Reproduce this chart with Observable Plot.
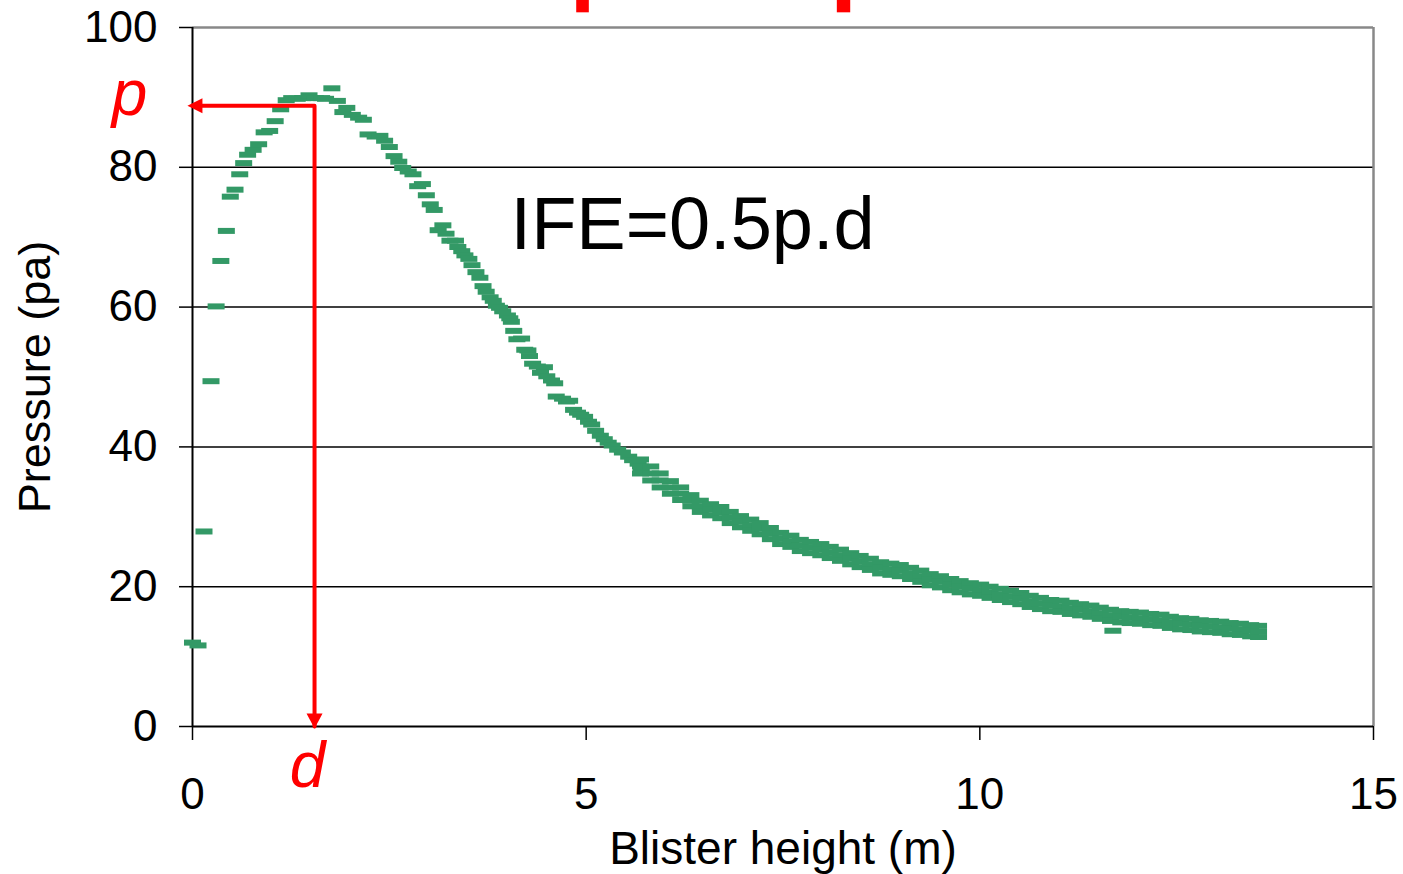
<!DOCTYPE html>
<html><head><meta charset="utf-8">
<script src="https://cdn.jsdelivr.net/npm/d3@7"></script>
<script src="https://cdn.jsdelivr.net/npm/@observablehq/plot@0.6"></script>
<style>body{margin:0;background:#fff} svg{display:block}</style>
</head><body><div id="chart"></div>
<script>
// Individually readable dashes (rising limb, peak, steep fall, one outlier)
const blisterHeight = [0.00,0.07,0.146,0.235,0.30,0.36,0.43,0.48,0.54,0.60,0.65,0.70,0.77,0.84,0.91,0.98,1.05,1.12,1.19,1.26,1.33,1.40,1.48,1.56,1.64,1.69,1.77,1.84,1.91,1.96,2.03,2.11,2.17,2.23,2.32,2.38,2.44,2.50,2.56,2.62,2.67,2.74,2.80,2.86,2.92,2.97,3.02,3.07,3.12,3.18,3.22,3.27,3.34,3.37,3.42,3.46,3.51,3.55,3.60,3.65,3.69,3.73,3.78,3.82,3.86,3.90,3.94,4.00,4.03,4.05,4.08,4.12,4.18,4.22,4.26,4.28,4.32,4.38,4.47,4.42,4.50,4.56,4.60,4.62,4.70,4.75,4.79,4.84,4.89,4.93,4.98,5.03,5.07,5.12,5.18,5.23,5.28,5.33,5.40,5.46,5.54,5.59,5.66,5.70,11.69];
const pressure = [12.0,11.6,27.9,49.4,60.1,66.6,70.9,75.8,76.8,79.0,80.6,81.8,82.5,83.3,85.0,85.2,86.6,88.3,89.6,89.9,89.8,89.9,90.3,89.9,89.9,89.8,91.3,89.5,87.9,88.5,87.5,87.1,86.8,84.7,84.4,84.5,83.8,82.9,81.6,80.8,79.9,79.4,79.0,77.3,77.6,76.0,74.7,73.9,71.0,71.7,70.5,69.5,69.5,68.6,68.0,67.4,66.9,66.0,65.0,64.2,63.0,62.2,61.4,60.9,60.2,59.9,59.4,58.8,58.4,57.9,56.6,55.4,55.5,53.9,53.8,53.0,51.9,51.5,51.4,50.6,50.1,49.5,49.1,47.2,46.9,46.5,46.6,45.3,44.9,44.6,44.3,43.6,43.2,42.3,41.6,41.1,40.6,40.2,39.6,39.2,38.6,38.1,37.6,36.6,13.7];

// Dense tail band: upper, middle and lower rows of the band of dashes
const tailHeight = [5.69,5.82,5.94,6.07,6.20,6.33,6.45,6.58,6.71,6.83,6.96,7.09,7.21,7.34,7.47,7.60,7.72,7.85,7.98,8.10,8.23,8.36,8.48,8.61,8.74,8.87,8.99,9.12,9.25,9.37,9.50,9.63,9.75,9.88,10.01,10.13,10.26,10.39,10.52,10.64,10.77,10.90,11.03,11.15,11.28,11.41,11.53,11.66,11.79,11.91,12.04,12.17,12.30,12.42,12.55,12.68,12.80,12.93,13.06,13.18,13.31,13.44,13.54];
const tailUpper = [38.2,37.2,36.2,35.1,34.2,33.1,32.3,31.8,31.4,30.7,30.1,29.6,29.1,28.4,27.7,27.3,26.7,26.4,26.1,25.7,25.3,24.8,24.4,24.0,23.5,23.3,23.1,22.7,22.3,21.8,21.5,21.1,20.8,20.5,20.3,20.0,19.7,19.4,19.1,18.7,18.4,18.1,18.0,17.7,17.5,17.3,17.0,16.7,16.5,16.4,16.3,16.1,16.0,15.7,15.5,15.4,15.2,15.1,15.0,14.8,14.7,14.5,14.4];
const tailMid = [37.2,36.2,35.2,34.2,33.3,32.3,31.5,31.0,30.6,29.9,29.3,28.8,28.3,27.6,26.9,26.5,25.9,25.6,25.3,24.9,24.5,24.0,23.6,23.2,22.7,22.5,22.3,21.9,21.5,21.0,20.7,20.3,20.0,19.7,19.5,19.2,18.9,18.6,18.3,17.9,17.6,17.3,17.2,16.9,16.7,16.5,16.2,15.9,15.7,15.6,15.5,15.3,15.2,14.9,14.7,14.6,14.4,14.3,14.2,14.0,13.9,13.7,13.6];
const tailLower = [36.2,35.2,34.2,33.3,32.4,31.5,30.7,30.2,29.8,29.1,28.5,28.0,27.5,26.8,26.1,25.7,25.1,24.8,24.5,24.1,23.7,23.2,22.8,22.4,21.9,21.7,21.5,21.1,20.7,20.2,19.9,19.5,19.2,18.9,18.7,18.4,18.1,17.8,17.5,17.1,16.8,16.5,16.4,16.1,15.9,15.7,15.4,15.1,14.9,14.8,14.7,14.5,14.4,14.1,13.9,13.8,13.6,13.5,13.4,13.2,13.1,12.9,12.8];

const xTicks = [0, 5, 10, 15];
const yTicks = [0, 20, 40, 60, 80, 100];
const gridLines = [20, 40, 60, 80];
const peakHeight = 1.55;   // d
const peakPressure = 88.8; // p
const topMarksX = [[4.88, 5.04], [8.19, 8.36]];
const formula = "IFE=0.5p.d";

const points = blisterHeight.map((x, i) => ({x, y: pressure[i]}));
tailHeight.forEach((x, i) => {
  points.push({x, y: tailUpper[i]}, {x, y: tailMid[i]}, {x, y: tailLower[i]});
});

const dash = {draw(ctx) { ctx.moveTo(-8.5, -3); ctx.lineTo(8.5, -3); ctx.lineTo(8.5, 3); ctx.lineTo(-8.5, 3); ctx.closePath(); }};
const headLeft = {draw(ctx) { ctx.moveTo(0, 0); ctx.lineTo(15, -7.5); ctx.lineTo(15, 7.5); ctx.closePath(); }};
const headDown = {draw(ctx) { ctx.moveTo(0, 0); ctx.lineTo(-8, -15); ctx.lineTo(8, -15); ctx.closePath(); }};

const RED = "#ff0000";
const chart = Plot.plot({
  width: 1403, height: 874,
  marginLeft: 192, marginRight: 30, marginTop: 27, marginBottom: 148,
  style: {fontFamily: "'Liberation Sans', Arial, sans-serif", background: "#fff", overflow: "visible"},
  x: {domain: [0, 15]},
  y: {domain: [0, 100]},
  marks: [
    Plot.ruleY(gridLines, {stroke: "#000", strokeWidth: 1.5}),
    Plot.ruleY([100], {stroke: "#888", strokeWidth: 2.5}),
    Plot.ruleX([15], {stroke: "#888", strokeWidth: 2.5}),
    Plot.axisY({ticks: yTicks, tickSize: 13, tickPadding: 22, fontSize: 44, label: null, strokeWidth: 1.5}),
    Plot.axisX({ticks: xTicks, tickSize: 14, tickPadding: 37, fontSize: 44, label: null, strokeWidth: 1.5}),
    Plot.ruleX([0], {stroke: "#000", strokeWidth: 2}),
    Plot.ruleY([0], {stroke: "#000", strokeWidth: 2}),
    Plot.dot(points, {x: "x", y: "y", symbol: dash, fill: "#339966", stroke: "none"}),
    Plot.line([[0, peakPressure], [peakHeight, peakPressure], [peakHeight, 0]], {stroke: RED, strokeWidth: 4}),
    Plot.dot([[-0.064, peakPressure]], {x: d => d[0], y: d => d[1], symbol: headLeft, fill: RED, stroke: "none"}),
    Plot.dot([[peakHeight, -0.29]], {x: d => d[0], y: d => d[1], symbol: headDown, fill: RED, stroke: "none"}),
    Plot.text(["p"], {x: -0.8, y: peakPressure, dy: -11, fill: RED, fontSize: 64, fontStyle: "italic", lineAnchor: "middle"}),
    Plot.text(["d"], {x: peakHeight, y: 0, dx: -7, dy: 40, fill: RED, fontSize: 64, fontStyle: "italic", lineAnchor: "middle"}),
    Plot.text([formula], {x: 4.04, y: 71.7, textAnchor: "start", lineAnchor: "middle", fontSize: 74, fill: "#000"}),
    Plot.rect(topMarksX, {x1: d => d[0], x2: d => d[1], y1: 102.1, y2: 104, fill: RED, clip: false}),
    Plot.text(["Blister height (m)"], {frameAnchor: "bottom", dy: 123, fontSize: 46, lineAnchor: "middle", fill: "#000"}),
    Plot.text(["Pressure (pa)"], {frameAnchor: "left", dx: -157, rotate: -90, textAnchor: "middle", fontSize: 45, lineAnchor: "middle", fill: "#000"})
  ]
});
document.getElementById("chart").appendChild(chart);
</script>
</body></html>
